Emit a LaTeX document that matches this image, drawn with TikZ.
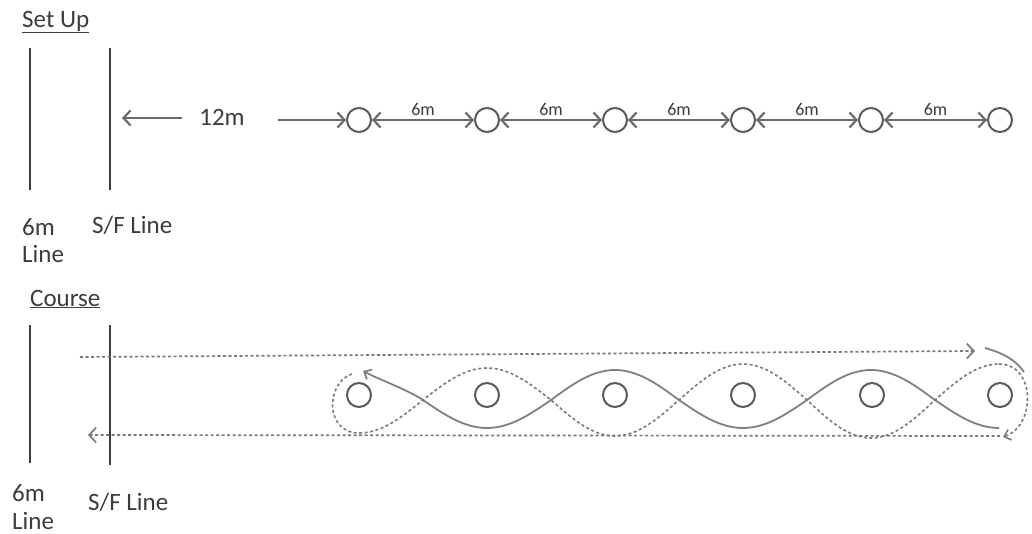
\documentclass[tikz,border=0pt]{standalone}
\usepackage{fontspec}
\setmainfont{Carlito}
\usetikzlibrary{arrows.meta}
\definecolor{ink}{HTML}{3C3C3C}
\definecolor{lineg}{HTML}{5A5A5A}
\definecolor{dotg}{HTML}{7A7A7A}
\begin{document}
\begin{tikzpicture}[x=1pt,y=-1pt,
  lbl/.style={font=\fontsize{25}{26}\selectfont, text=ink, inner sep=0pt, anchor=west},
  small/.style={font=\fontsize{18}{18}\selectfont, text=ink, inner sep=0pt},
  cone/.style={circle, draw=lineg, line width=2pt, minimum size=24pt, inner sep=0pt},
  vline/.style={draw=ink, line width=1.6pt},
  vtip/.tip={Straight Barb[length=7pt,width=15pt]},
  measure/.style={draw=lineg!90, line width=2.2pt},
  dotl/.style={draw=dotg, line width=1.7pt, dash pattern=on 3pt off 2.5pt},
  solidw/.style={draw=gray, line width=1.8pt},
]
\useasboundingbox (0,0) rectangle (1032,534);

% ---------------- Set Up ----------------
\node[lbl] (setup) at (22,22) {\underline{Set Up}};
\draw[vline] (30,48) -- (30,190);
\draw[vline] (110,48) -- (110,190);
\node[lbl] (six1) at (22,227) {6m};
\node[lbl] (line1) at (22,254) {Line};
\node[lbl] (sf1) at (92,225) {S/F Line};

\coordinate (sfA) at (122,118);
\coordinate (tailA) at (182,118);
\node[lbl, anchor=center] (twelve) at (222,117) {12m};
\coordinate (tailB) at (278,120);

\foreach \i/\x in {1/359,2/487,3/615,4/743,5/871,6/1000}{
  \node[cone] (c\i) at (\x,120) {};
}
\draw[measure, -{vtip}] (tailA) -- (sfA);
\draw[measure, -{vtip}] (tailB) -- (c1);
\foreach \a/\b in {1/2,2/3,3/4,4/5,5/6}{
  \draw[measure, {vtip}-{vtip}] (c\a) -- node[small, above=3pt] (m\a) {6m} (c\b);
}

% ---------------- Course ----------------
\node[lbl] (course) at (30,299) {\underline{Course}};
\draw[vline] (30,325) -- (30,463);
\draw[vline] (110,325) -- (110,465);
\node[lbl] (six2) at (12,493) {6m};
\node[lbl] (line2) at (12,521) {Line};
\node[lbl] (sf2) at (88,502) {S/F Line};

\foreach \i/\x in {1/359,2/487,3/615,4/743,5/872,6/1000}{
  \node[cone] (k\i) at (\x,395) {};
}

\coordinate (topS) at (80,357);
\coordinate (topE) at (975,351);
\coordinate (botS) at (1000,436);
\coordinate (botE) at (88,435);
\draw[dotl, -{vtip}] (topS) -- (topE);
\draw[dotl, -{vtip}] (botS) -- (botE);

% weaving solid path
\draw[solidw, {vtip[length=6pt,width=11pt]}-] (363,371) .. controls (378,379) and (408,390) .. (423,400)
  sin (487,428) cos (551,400) sin (615,370) cos (679,400) sin (743,428)
  cos (807,400) sin (871,370) cos (935,400) sin (999,428);

% weaving dashed path with loops
\draw[dotl, line width=1.6pt] (352,374) .. controls (326,382) and (324,433) .. (359,433)
  cos (423,400) sin (487,368) cos (551,400) sin (615,436) cos (679,400)
  sin (743,364) cos (807,400) sin (871,438) cos (935,400) sin (999,364);
\draw[dotl, line width=1.6pt, -{vtip[length=6pt,width=11pt]}] (999,364) .. controls (1036,364) and (1036,426) .. (1003,437);
\draw[solidw] (985,348) .. controls (1003,353) and (1016,360) .. (1024,372);

\end{tikzpicture}
\end{document}
